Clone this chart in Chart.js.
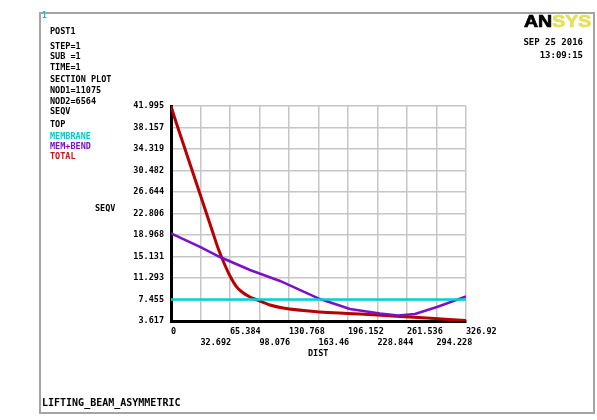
<!DOCTYPE html>
<html><head><meta charset="utf-8">
<script src="https://cdn.jsdelivr.net/npm/chart.js@4.4.1/dist/chart.umd.min.js"></script>
<style>
html,body{margin:0;padding:0;background:#fff;}
#wrap{position:relative;width:597px;height:420px;overflow:hidden;background:#fff;}
canvas{position:absolute;left:0;top:0;}
#frame{position:absolute;left:39px;top:12px;width:552px;height:398px;border:2px solid #a4a4a4;}
.t{position:absolute;font-family:"DejaVu Sans Mono",monospace;font-weight:bold;font-size:8.5px;line-height:9px;color:#000;white-space:pre;}
#logo{position:absolute;left:524px;top:14px;font-family:"Liberation Sans",Arial,sans-serif;font-weight:bold;font-size:16px;line-height:16px;transform:scaleX(1.22);transform-origin:0 0;white-space:pre;-webkit-text-stroke:0.7px currentColor;}
</style></head>
<body><div id="wrap">
<div id="frame"></div>
<canvas id="c" width="597" height="420"></canvas>
<div class="t" style="left:42px;top:11px;color:#00cccc;font-size:8px">1</div>
<div class="t" style="left:50px;top:27px">POST1</div>
<div class="t" style="left:50px;top:41.5px">STEP=1</div>
<div class="t" style="left:50px;top:52px">SUB =1</div>
<div class="t" style="left:50px;top:62.5px">TIME=1</div>
<div class="t" style="left:50px;top:75px">SECTION PLOT</div>
<div class="t" style="left:50px;top:85.5px">NOD1=11075</div>
<div class="t" style="left:50px;top:96.5px">NOD2=6564</div>
<div class="t" style="left:50px;top:107px">SEQV</div>
<div class="t" style="left:50px;top:119.5px">TOP</div>
<div class="t" style="left:50px;top:132px;color:#00cccc">MEMBRANE</div>
<div class="t" style="left:50px;top:142px;color:#7b10c8">MEM+BEND</div>
<div class="t" style="left:50px;top:152px;color:#d01010">TOTAL</div>
<div id="logo"><span style="color:#000">AN</span><span style="color:#e6e05a">SYS</span></div>
<div class="t" style="right:14px;top:37.5px;font-size:9px">SEP 25 2016</div>
<div class="t" style="right:14px;top:50.5px;font-size:9px">13:09:15</div>
<div class="t" style="left:95px;top:203.5px">SEQV</div>
<div class="t" style="left:308px;top:348.5px">DIST</div>
<div class="t" style="left:42px;top:398px;font-size:10px">LIFTING_BEAM_ASYMMETRIC</div>
</div>
<script>
// Axis ticks
const xTicks = [0, 32.692, 65.384, 98.076, 130.768, 163.46, 196.152, 228.844, 261.536, 294.228, 326.92];
const xTickLabels = ['0','32.692','65.384','98.076','130.768','163.46','196.152','228.844','261.536','294.228','326.92'];
const yTicks = [3.617, 7.455, 11.293, 15.131, 18.968, 22.806, 26.644, 30.482, 34.319, 38.157, 41.995];

// MEMBRANE (cyan)
const xMem = [0, 326.92];
const yMem = [7.455, 7.455];

// MEM+BEND (purple)
const xMB = [0, 32.14, 54.30, 87.55, 120.79, 165.12, 198.37, 231.61, 251.57, 270.40, 294.78, 326.92];
const yMB = [19.24, 16.83, 15.04, 12.72, 10.76, 7.54, 5.76, 4.96, 4.60, 4.87, 6.12, 7.99];

// TOTAL (red)
const xTot = [0, 5.54, 12.19, 18.84, 25.49, 32.14, 38.79, 45.44, 52.09, 58.73, 65.38, 72.03, 78.68, 87.55, 95.30, 109.71, 124.12, 165.12, 195.04, 228.29, 253.78, 283.70, 326.92];
const yTot = [41.995, 39.14, 35.93, 32.71, 29.50, 26.29, 23.07, 19.86, 16.65, 13.97, 11.65, 9.86, 8.79, 7.90, 7.37, 6.47, 5.94, 5.23, 4.96, 4.69, 4.42, 4.15, 3.71];

const pts = (xs, ys) => xs.map((x, i) => ({x: x, y: ys[i]}));
const tickFont = {family: 'DejaVu Sans Mono', weight: 'bold', size: 8.5};

new Chart(document.getElementById('c'), {
  type: 'line',
  data: {datasets: [
    {label: 'MEMBRANE', data: pts(xMem, yMem), borderColor: '#00d2d2', borderWidth: 2.5, pointRadius: 0, tension: 0},
    {label: 'MEM+BEND', data: pts(xMB, yMB), borderColor: '#7b10c8', borderWidth: 2.5, pointRadius: 0, tension: 0},
    {label: 'TOTAL', data: pts(xTot, yTot), borderColor: '#b80000', borderWidth: 3, pointRadius: 0, cubicInterpolationMode: 'monotone'}
  ]},
  options: {
    responsive: false, animation: false,
    layout: {padding: {left: 0, right: 131, top: 106, bottom: 0}},
    plugins: {legend: {display: false}, tooltip: {enabled: false}},
    scales: {
      x: {
        type: 'linear', min: 0, max: 326.92,
        afterBuildTicks: s => { s.ticks = xTicks.map(v => ({value: v})); },
        afterFit: s => { s.height = 99; },
        grid: {color: '#c6c6c6', lineWidth: 1.5, drawTicks: false},
        border: {color: '#000', width: 3},
        ticks: {align: 'start', padding: 6, font: tickFont, color: '#000', maxRotation: 0, autoSkip: false,
          callback: (v, i) => (i % 2 ? ['', xTickLabels[i]] : xTickLabels[i])}
      },
      y: {
        type: 'linear', min: 3.617, max: 41.995,
        afterBuildTicks: s => { s.ticks = yTicks.map(v => ({value: v})); },
        afterFit: s => { s.width = 171; },
        grid: {color: '#c6c6c6', lineWidth: 1.5, drawTicks: false},
        border: {color: '#000', width: 3},
        ticks: {padding: 7, font: tickFont, color: '#000', autoSkip: false,
          callback: v => Number(v).toFixed(3)}
      }
    }
  }
});
</script>
</body></html>
